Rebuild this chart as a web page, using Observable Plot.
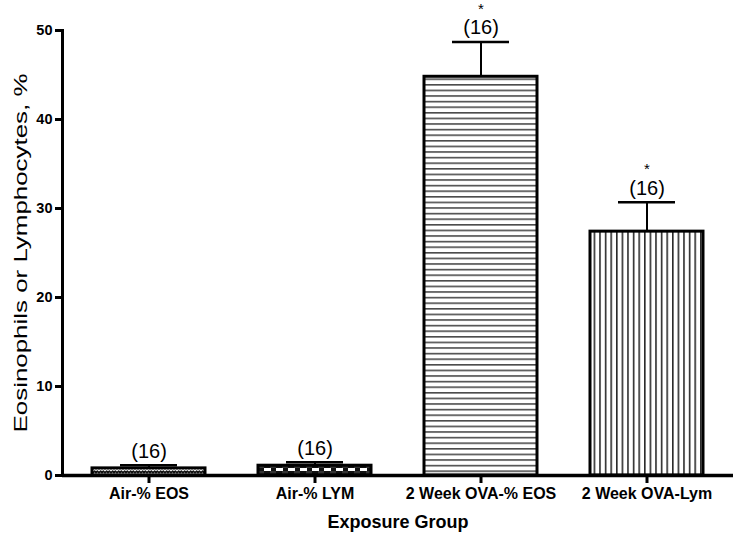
<!DOCTYPE html>
<html>
<head>
<meta charset="utf-8">
<script src="https://cdn.jsdelivr.net/npm/d3@7"></script>
<script src="https://cdn.jsdelivr.net/npm/@observablehq/plot@0.6"></script>
<style>
  body { margin: 0; background: #fff; }
  #chart svg { font-family: "Liberation Sans", Arial, sans-serif; }
</style>
</head>
<body>
<div id="chart"></div>
<script>
const categories = ["Air-% EOS", "Air-% LYM", "2 Week OVA-% EOS", "2 Week OVA-Lym"];
const means = [0.8, 1.1, 44.8, 27.4];
const sems = [0.35, 0.4, 3.9, 3.3];
const nLabels = ["(16)", "(16)", "(16)", "(16)"];
const sigMarks = ["", "", "*", "*"];
const yTicks = [0, 10, 20, 30, 40, 50];
const yLabel = "Eosinophils or Lymphocytes, %";
const xLabel = "Exposure Group";

const data = categories.map((c, i) => ({
  group: c, mean: means[i], top: means[i] + sems[i], n: nLabels[i], sig: sigMarks[i], idx: i
}));

const font = '"Liberation Sans", Arial, sans-serif';

const chart = Plot.plot({
  width: 750,
  height: 538,
  marginTop: 30,
  marginBottom: 63,
  marginLeft: 62,
  marginRight: 17,
  style: { background: "#fff", color: "#000", overflow: "visible", fontFamily: font },
  x: {
    domain: categories,
    paddingInner: 0.32,
    paddingOuter: 0.18,
    axis: null
  },
  y: {
    domain: [0, 50],
    axis: null
  },
  color: { type: "identity" },
  marks: [
    Plot.barY(data, {
      x: "group", y: "mean",
      fill: d => `url(#pat${d.idx})`,
      stroke: "#000", strokeWidth: 3
    }),
    Plot.ruleX(data, { x: "group", y1: "mean", y2: "top", stroke: "#000", strokeWidth: 2 }),
    Plot.tickY(data, { x: "group", y: "top", stroke: "#000", strokeWidth: 2.5, insetLeft: 28, insetRight: 28 }),
    Plot.axisY({
      ticks: yTicks, tickSize: 7, tickPadding: 3, strokeWidth: 3,
      fontSize: 14.5, fontWeight: "bold",
      label: yLabel, labelAnchor: "center", labelOffset: 48, labelArrow: "none"
    }),
    Plot.axisX({
      tickSize: 8, tickPadding: 4, strokeWidth: 3,
      fontSize: 16, fontWeight: "bold",
      label: xLabel, labelAnchor: "center", labelOffset: 52, labelArrow: "none"
    }),
    Plot.frame({ anchor: "left", stroke: "#000", strokeWidth: 3.5 }),
    Plot.ruleY([0], { stroke: "#000", strokeWidth: 3.5 }),
    Plot.text(data, { x: "group", y: "top", text: "n", dy: -14, fontSize: 20, fill: "#000" }),
    Plot.text(data, { x: "group", y: "top", text: "sig", dy: -33, fontSize: 15, fill: "#000" })
  ]
});

// pattern definitions
const ns = "http://www.w3.org/2000/svg";
const defs = document.createElementNS(ns, "defs");
defs.innerHTML = `
  <pattern id="pat0" patternUnits="userSpaceOnUse" width="6" height="4">
    <rect width="6" height="4" fill="#111"/>
    <path d="M0,2.6 L1.5,1.2 L3,2.6 L4.5,1.2 L6,2.6" stroke="#fff" stroke-width="1.2" fill="none"/>
  </pattern>
  <pattern id="pat1" patternUnits="userSpaceOnUse" width="12" height="6">
    <rect width="12" height="6" fill="#111"/>
    <rect x="0" y="0" width="7" height="3" fill="#fff"/>
    <rect x="6" y="3" width="6" height="3" fill="#fff" opacity="0.15"/>
  </pattern>
  <pattern id="pat2" patternUnits="userSpaceOnUse" width="10" height="5.6">
    <rect width="10" height="5.6" fill="#fff"/>
    <rect x="0" y="0" width="10" height="1.6" fill="#4a4a4a"/>
  </pattern>
  <pattern id="pat3" patternUnits="userSpaceOnUse" width="5.6" height="10">
    <rect width="5.6" height="10" fill="#fff"/>
    <rect x="0" y="0" width="1.6" height="10" fill="#2a2a2a"/>
  </pattern>`;
chart.insertBefore(defs, chart.firstChild);

// make axis strokes explicitly thick
chart.querySelectorAll('[aria-label^="y-axis tick"], [aria-label^="x-axis tick"], [aria-label="frame"]').forEach(g => {
  if (!/label/.test(g.getAttribute("aria-label"))) {
    g.setAttribute("stroke-width", "3");
    g.querySelectorAll("path, line, rect").forEach(p => p.setAttribute("stroke-width", "3"));
  }
});

// axis label fonts
chart.querySelectorAll('text').forEach(t => {
  const s = t.textContent.trim();
  if (s === yLabel) {
    t.setAttribute("font-weight", "normal");
    t.setAttribute("font-size", "18");
    t.setAttribute("textLength", "359");
    t.setAttribute("lengthAdjust", "spacingAndGlyphs");
  }
  if (s === xLabel) {
    t.setAttribute("font-weight", "bold");
    t.setAttribute("font-size", "18");
  }
});
document.getElementById("chart").appendChild(chart);
</script>
</body>
</html>
